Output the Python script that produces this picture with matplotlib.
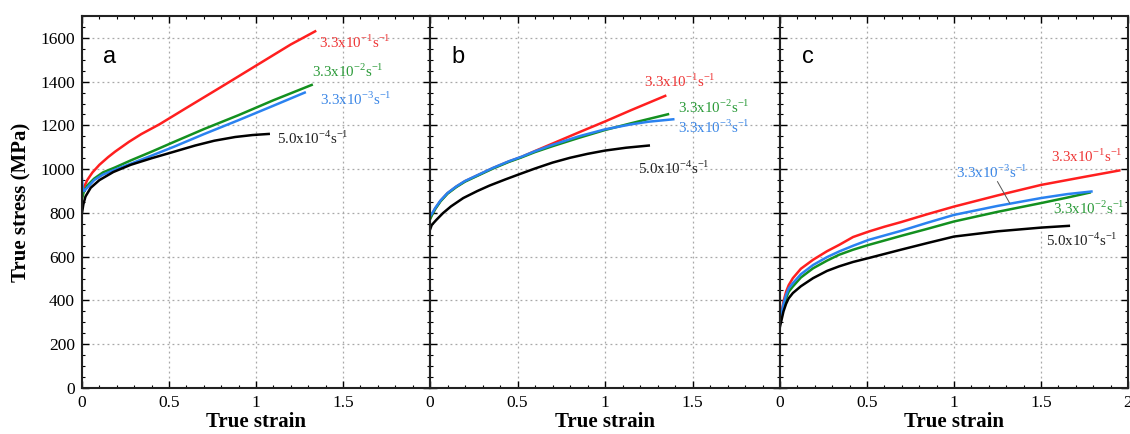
import matplotlib
matplotlib.use("Agg")
import matplotlib.pyplot as plt
from matplotlib.ticker import MultipleLocator

plt.rcParams["font.family"] = "Liberation Serif"
plt.rcParams["mathtext.fontset"] = "custom"
plt.rcParams["mathtext.rm"] = "Liberation Serif"

# strain rates (legend text) and colours
rate_labels = [r"3.3x10$^{\mathregular{-1}}$s$^{\mathregular{-1}}$",
               r"3.3x10$^{\mathregular{-2}}$s$^{\mathregular{-1}}$",
               r"3.3x10$^{\mathregular{-3}}$s$^{\mathregular{-1}}$",
               r"5.0x10$^{\mathregular{-4}}$s$^{\mathregular{-1}}$"]
line_colors = ["#ff1f1f", "#13901f", "#2a82f0", "#000000"]
text_colors = ["#ee3535", "#2a9a38", "#3a86e6", "#202020"]

# ---- panel a ----
a_red_x = [0, 0.01, 0.03, 0.06, 0.1, 0.15, 0.19, 0.27, 0.34, 0.445, 0.6, 0.8, 1.0, 1.2, 1.34]
a_red_y = [875, 915, 950, 985, 1020, 1055, 1080, 1125, 1160, 1205, 1280, 1376, 1473, 1570, 1630]
a_green_x = [0, 0.01, 0.03, 0.07, 0.12, 0.19, 0.28, 0.4, 0.53, 0.7, 0.9, 1.1, 1.32]
a_green_y = [865, 895, 925, 957, 985, 1008, 1040, 1080, 1125, 1183, 1247, 1315, 1385]
a_blue_x = [0, 0.004, 0.012, 0.03, 0.07, 0.12, 0.19, 0.28, 0.4, 0.53, 0.7, 0.9, 1.1, 1.28]
a_blue_y = [955, 915, 900, 915, 950, 975, 998, 1025, 1062, 1103, 1160, 1224, 1290, 1350]
a_black_x = [0, 0.008, 0.02, 0.05, 0.1, 0.18, 0.28, 0.4, 0.53, 0.65, 0.76, 0.88, 0.98, 1.073]
a_black_y = [800, 840, 875, 915, 950, 987, 1020, 1050, 1080, 1108, 1130, 1147, 1156, 1161]

# ---- panel b ----
b_red_x = [0, 0.01, 0.03, 0.06, 0.1, 0.15, 0.2, 0.28, 0.36, 0.45, 0.52, 0.6, 0.7, 0.85, 1.0, 1.15, 1.344]
b_red_y = [775, 790, 820, 855, 890, 920, 945, 975, 1005, 1035, 1055, 1083, 1117, 1168, 1218, 1270, 1335]
b_green_x = [0, 0.01, 0.03, 0.06, 0.1, 0.15, 0.2, 0.28, 0.36, 0.45, 0.52, 0.6, 0.7, 0.85, 1.0, 1.15, 1.36]
b_green_y = [770, 788, 818, 853, 888, 918, 943, 973, 1003, 1033, 1053, 1078, 1105, 1143, 1179, 1210, 1251]
b_blue_x = [0, 0.01, 0.03, 0.06, 0.1, 0.15, 0.2, 0.28, 0.36, 0.45, 0.52, 0.6, 0.7, 0.85, 1.0, 1.15, 1.25, 1.39]
b_blue_y = [785, 795, 823, 857, 891, 921, 946, 976, 1006, 1036, 1056, 1082, 1111, 1150, 1182, 1205, 1217, 1228]
b_black_x = [0, 0.01, 0.036, 0.074, 0.12, 0.19, 0.27, 0.34, 0.43, 0.514, 0.6, 0.7, 0.8, 0.9, 1.0, 1.12, 1.25]
b_black_y = [723, 745, 768, 799, 830, 868, 900, 925, 953, 978, 1003, 1030, 1052, 1070, 1085, 1098, 1108]

# ---- panel c ----
c_red_x = [0, 0.01, 0.02, 0.035, 0.05, 0.074, 0.12, 0.19, 0.27, 0.34, 0.42, 0.51, 0.6, 0.695, 0.85, 1.0, 1.25, 1.5, 1.75, 1.95]
c_red_y = [310, 350, 395, 440, 470, 502, 545, 586, 625, 654, 690, 715, 737, 758, 795, 829, 880, 928, 965, 994]
c_green_x = [0, 0.01, 0.02, 0.035, 0.05, 0.074, 0.12, 0.19, 0.27, 0.34, 0.42, 0.51, 0.695, 0.85, 1.0, 1.25, 1.5, 1.65, 1.78]
c_green_y = [300, 335, 370, 410, 440, 464, 505, 547, 582, 609, 632, 654, 695, 728, 761, 805, 845, 870, 893]
c_blue_x = [0, 0.01, 0.02, 0.035, 0.05, 0.074, 0.12, 0.19, 0.27, 0.34, 0.42, 0.51, 0.695, 0.85, 1.0, 1.25, 1.5, 1.65, 1.79]
c_blue_y = [305, 345, 385, 425, 455, 479, 520, 562, 598, 624, 650, 677, 718, 756, 791, 832, 868, 886, 898]
c_black_x = [0, 0.01, 0.02, 0.035, 0.05, 0.074, 0.12, 0.19, 0.27, 0.34, 0.42, 0.51, 0.695, 0.85, 1.0, 1.25, 1.5, 1.66]
c_black_y = [281, 315, 350, 385, 410, 434, 465, 502, 535, 556, 576, 594, 632, 663, 692, 716, 733, 741]

panel_letters = ["a", "b", "c"]
x_labels = [[0, 0.5, 1, 1.5], [0, 0.5, 1, 1.5], [0, 0.5, 1, 1.5, 2]]

# label anchor points (left edge, vertical centre), in data units
a_text = [(1.36, 1580), (1.32, 1445), (1.365, 1320), (1.12, 1141)]
b_text = [(1.22, 1400), (1.42, 1281), (1.42, 1190), (1.19, 1005)]
c_text = [(1.56, 1058), (1.57, 822), (1.01, 984), (1.53, 677)]

panels = [
    ([(a_red_x, a_red_y), (a_green_x, a_green_y), (a_blue_x, a_blue_y), (a_black_x, a_black_y)], a_text),
    ([(b_red_x, b_red_y), (b_green_x, b_green_y), (b_blue_x, b_blue_y), (b_black_x, b_black_y)], b_text),
    ([(c_red_x, c_red_y), (c_green_x, c_green_y), (c_blue_x, c_blue_y), (c_black_x, c_black_y)], c_text),
]

fig = plt.figure(figsize=(11.3, 4.34), dpi=100)
lefts = [82, 430, 780]
width_px = [348, 350, 348]

for k, (curves, texts) in enumerate(panels):
    ax = fig.add_axes([lefts[k] / 1130, 1 - 388 / 434, width_px[k] / 1130, 372 / 434])
    ax.set_xlim(0, 2)
    ax.set_ylim(0, 1700)
    ax.grid(True, linestyle=(0, (1.5, 2.5)), color="#a8a8a8", linewidth=0.9)
    ax.set_axisbelow(True)
    for (xs, ys), col in zip(curves, line_colors):
        ax.plot(xs, ys, color=col, lw=1.8, solid_joinstyle="round")
    for (tx, ty), lab, tc in zip(texts, rate_labels, text_colors):
        ax.text(tx, ty, lab, color=tc, fontsize=10.8, ha="left", va="center")
    if k == 2:
        # leader line from the 10^-3 label to its curve
        ax.plot([1.25, 1.32], [943, 845], color="#555555", lw=0.7)
    ax.text(0.16, 1513, panel_letters[k], fontsize=17, family="Liberation Sans",
            ha="center", va="center")

    ax.xaxis.set_minor_locator(MultipleLocator(0.1))
    ax.yaxis.set_major_locator(MultipleLocator(200))
    ax.yaxis.set_minor_locator(MultipleLocator(50))
    ax.set_xticks(x_labels[k])
    ax.set_xticklabels([("%g" % v) for v in x_labels[k]])
    ax.tick_params(which="both", direction="in", top=True, right=True, labelsize=12.5, pad=5)
    ax.tick_params(which="major", length=5, width=1)
    ax.tick_params(which="minor", length=2.5, width=0.8)
    if k > 0:
        ax.tick_params(labelleft=False)
    for sp in ax.spines.values():
        sp.set_linewidth(1.5)
        sp.set_color("#222222")
    ax.set_xlabel("True strain", fontsize=15, fontweight="bold", labelpad=1)
    if k == 0:
        ax.set_ylabel("True stress (MPa)", fontsize=15, fontweight="bold", labelpad=6)

fig.savefig("out.png", dpi=100)
